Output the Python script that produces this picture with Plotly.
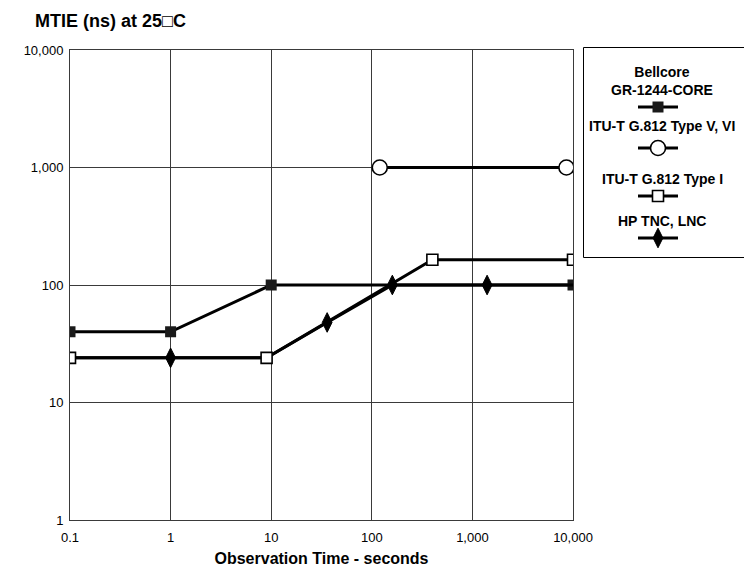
import plotly.graph_objects as go

# ---- data ----
x_tick_vals = [0.1, 1, 10, 100, 1000, 10000]
x_tick_text = ["0.1", "1", "10", "100", "1,000", "10,000"]
y_tick_vals = [1, 10, 100, 1000, 10000]
y_tick_text = ["1", "10", "100", "1,000", "10,000"]

bellcore_x = [0.1, 1, 10, 10000]
bellcore_y = [40, 40, 100, 100]

itu_v_x = [120, 8600]
itu_v_y = [1000, 1000]

itu_i_x = [0.1, 9, 400, 10000]
itu_i_y = [24, 24, 164, 164]

hp_x = [0.1, 1, 9, 36, 160, 1400, 10000]
hp_y = [24, 24, 24, 48, 100, 100, 100]
hp_marker_at = [1, 36, 160, 1400]

series_names = ["Bellcore<br>GR-1244-CORE", "ITU-T G.812 Type V, VI",
                "ITU-T G.812 Type I", "HP TNC, LNC"]

FONT = "Liberation Sans, Arial, sans-serif"
W, H = 744, 578
ML, MR, MT, MB = 70, 0, 45, 58
PW = W - ML - MR
PH = H - MT - MB
plot_right = 573
plot_top = 50

fig = go.Figure()

line = dict(color="black", width=3)
filled_sq = dict(symbol="square", size=11, color="#1a1a1a", line=dict(width=0))
open_circ = dict(symbol="circle", size=15, color="white", line=dict(width=1.6, color="black"))
open_sq = dict(symbol="square", size=11, color="white", line=dict(width=1.6, color="black"))
diam = dict(symbol="diamond-tall", size=14, color="black", line=dict(width=1, color="black"))

fig.add_trace(go.Scatter(x=bellcore_x, y=bellcore_y, mode="lines+markers", line=line,
                         marker=filled_sq, cliponaxis=True))
fig.add_trace(go.Scatter(x=hp_x, y=hp_y, mode="lines", line=line, cliponaxis=True))
hp_lookup = dict(zip(hp_x, hp_y))
fig.add_trace(go.Scatter(x=hp_marker_at, y=[hp_lookup[v] for v in hp_marker_at],
                         mode="markers", marker=diam, opacity=1, cliponaxis=True))
fig.add_trace(go.Scatter(x=itu_v_x, y=itu_v_y, mode="lines+markers", line=line,
                         marker=open_circ, cliponaxis=True))
fig.add_trace(go.Scatter(x=itu_i_x, y=itu_i_y, mode="lines+markers", line=line,
                         marker=open_sq, cliponaxis=True))

# ---- custom legend on a hidden overlay axis (pixel-like coordinates) ----
leg_x0, leg_x1, leg_y0, leg_y1 = 583, 745, 47, 257
ax2_bottom = 262
sample_y = [107, 148, 196, 238]
sample_markers = [filled_sq, open_circ, open_sq, diam]
label_y = [81, 126, 179, 221]
for sy, mk in zip(sample_y, sample_markers):
    fig.add_trace(go.Scatter(x=[638, 658, 678], y=[sy] * 3, mode="lines",
                             line=line, xaxis="x2", yaxis="y2", hoverinfo="skip"))
    fig.add_trace(go.Scatter(x=[658], y=[sy], mode="markers", marker=mk,
                             xaxis="x2", yaxis="y2", hoverinfo="skip"))

annotations = []
for name, ly in zip(series_names, label_y):
    annotations.append(dict(text="<b>" + name + "</b>", x=662, y=ly, xref="x2", yref="y2",
                            showarrow=False, font=dict(family=FONT, size=14, color="black"),
                            xanchor="center", yanchor="middle", align="center"))

shapes = [dict(type="rect", xref="x2", yref="y2", x0=leg_x0 + 0.5, x1=leg_x1,
               y0=leg_y0 + 0.5, y1=leg_y1 + 0.5, line=dict(color="black", width=1),
               fillcolor="rgba(0,0,0,0)", layer="below")]

grid = "#3a3a3a"
fig.update_layout(
    width=W, height=H, autosize=False,
    margin=dict(l=ML, r=MR, t=MT, b=MB, pad=0, autoexpand=False),
    plot_bgcolor="white", paper_bgcolor="white",
    showlegend=False,
    font=dict(family=FONT, color="black", size=13),
    title=dict(text="<b>MTIE (ns) at 25\u25a1C</b>", x=35 / W, xref="container",
               y=1 - 21 / H, yref="container", xanchor="left", yanchor="middle",
               font=dict(family=FONT, size=18, color="black")),
    xaxis=dict(type="log", range=[-1, 4], domain=[0, (plot_right - ML) / PW],
               tickmode="array", tickvals=x_tick_vals, ticktext=x_tick_text,
               showgrid=True, gridcolor=grid, gridwidth=1, automargin=False,
               showline=True, linecolor=grid, linewidth=1, mirror=True,
               zeroline=False, ticks="", ticklabelstandoff=5,
               tickfont=dict(family=FONT, size=13, color="black"),
               title=dict(text="<b>Observation Time - seconds</b>", standoff=9,
                          font=dict(family=FONT, size=16, color="black"))),
    yaxis=dict(type="log", range=[0, 4], domain=[0, (H - MB - plot_top) / PH],
               tickmode="array", tickvals=y_tick_vals, ticktext=y_tick_text,
               showgrid=True, gridcolor=grid, gridwidth=1, automargin=False,
               showline=True, linecolor=grid, linewidth=1, mirror=True,
               zeroline=False, ticks="", ticklabelstandoff=3,
               tickfont=dict(family=FONT, size=13, color="black")),
    xaxis2=dict(domain=[(leg_x0 - ML) / PW, 1], range=[leg_x0, W], visible=False,
                anchor="y2", fixedrange=True, automargin=False),
    yaxis2=dict(domain=[(H - MB - ax2_bottom) / PH, 1], range=[ax2_bottom, MT], visible=False,
                anchor="x2", fixedrange=True, automargin=False),
    annotations=annotations,
    shapes=shapes,
)

fig.write_html("out.html")
